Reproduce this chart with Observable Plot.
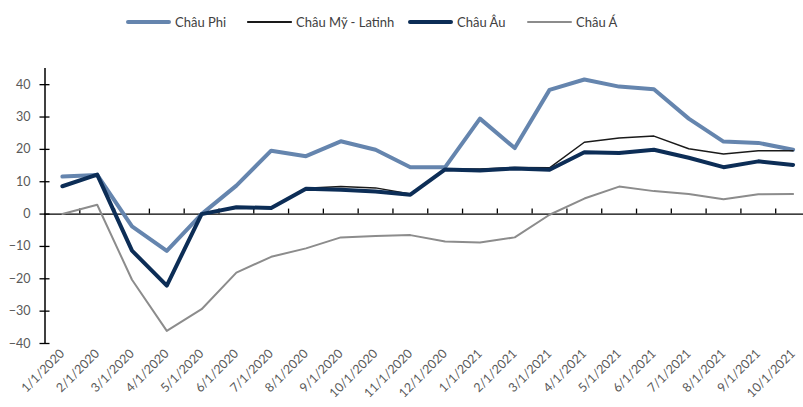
<!DOCTYPE html>
<html>
<head>
<meta charset="utf-8">
<script src="https://cdn.jsdelivr.net/npm/d3@7"></script>
<script src="https://cdn.jsdelivr.net/npm/@observablehq/plot@0.6"></script>
<style>
  body { margin: 0; background: #fff; font-family: Lato, "Noto Sans", sans-serif; }
  #legend { height: 40px; position: relative; font-size: 13px; color: #404040; }
  .item { position: absolute; top: 13px; display: flex; align-items: center; height: 18px; white-space: nowrap; }
  .sw { display: inline-block; width: 45px; margin-right: 4px; }
</style>
</head>
<body>
<div id="legend"></div>
<div id="chart"></div>
<script>
const months = ["1/1/2020","2/1/2020","3/1/2020","4/1/2020","5/1/2020","6/1/2020","7/1/2020","8/1/2020","9/1/2020","10/1/2020","11/1/2020","12/1/2020",
                "1/1/2021","2/1/2021","3/1/2021","4/1/2021","5/1/2021","6/1/2021","7/1/2021","8/1/2021","9/1/2021","10/1/2021"];
const seriesNames = ["Châu Phi", "Châu Mỹ - Latinh", "Châu Âu", "Châu Á"];
const chauPhi   = [11.6, 12.1, -3.8, -11.4, 0.0, 8.8, 19.6, 17.9, 22.5, 19.9, 14.5, 14.5, 29.5, 20.4, 38.4, 41.6, 39.4, 38.6, 29.5, 22.4, 22.0, 19.9];
const chauMyLatinh = [8.7, 12.2, -11.2, -22.0, 0.0, 1.9, 1.9, 8.0, 8.5, 8.1, 6.2, 13.9, 13.9, 14.4, 14.3, 22.2, 23.5, 24.1, 20.2, 18.6, 19.6, 19.6];
const chauAu    = [8.6, 12.2, -11.3, -22.1, 0.0, 2.1, 1.9, 7.8, 7.5, 7.0, 6.0, 13.8, 13.5, 14.1, 13.7, 19.1, 18.9, 19.9, 17.4, 14.5, 16.3, 15.2];
const chauA     = [0.0, 2.9, -20.3, -36.1, -29.4, -18.1, -13.2, -10.6, -7.2, -6.8, -6.5, -8.5, -8.8, -7.2, -0.2, 4.8, 8.5, 7.1, 6.2, 4.6, 6.1, 6.2];
const yTicks = [-40, -30, -20, -10, 0, 10, 20, 30, 40];

const values = [chauPhi, chauMyLatinh, chauAu, chauA];
const colors = ["#6585ae", "#1a1a1a", "#0c2d56", "#8c8c8c"];
const widths = [4, 1.5, 4, 2];
const legendLeft = [126, 247, 408, 527];

// legend
const legend = document.getElementById("legend");
seriesNames.forEach((name, s) => {
  const it = document.createElement("div");
  it.className = "item";
  it.style.left = legendLeft[s] + "px";
  const sw = document.createElement("span");
  sw.className = "sw";
  sw.style.height = widths[s] + "px";
  sw.style.background = colors[s];
  sw.style.borderRadius = (widths[s] / 2) + "px";
  it.appendChild(sw);
  const t = document.createElement("span");
  t.textContent = name;
  it.appendChild(t);
  legend.appendChild(it);
});

const idx = d3.range(months.length);
const boundaries = idx.slice(0, -1).map(i => i + 0.5);
const rows = s => values[s].map((v, i) => ({i, v}));

const lineMarks = seriesNames.map((name, s) =>
  Plot.line(rows(s), {x: "i", y: "v", stroke: colors[s], strokeWidth: widths[s], strokeLinejoin: "round", strokeLinecap: "round"})
);

const chart = Plot.plot({
  width: 803,
  height: 367,
  marginLeft: 44,
  marginRight: 0,
  marginTop: 28,
  marginBottom: 64,
  style: {fontFamily: "Lato, 'Noto Sans', sans-serif", fontSize: "12.5px", color: "#595959", background: "#fff"},
  x: {domain: [-0.5, months.length - 0.5], range: [44.5, 810], label: null},
  y: {domain: [-40, 45], label: null},
  marks: [
    Plot.ruleY([0], {stroke: "#000", strokeWidth: 1.3}),
    Plot.ruleX(boundaries, {x: d => d, y1: 0, y2: 0, insetBottom: 5, stroke: "#000", strokeWidth: 1.3}),
    Plot.ruleX([-0.5], {stroke: "#000", strokeWidth: 1.5}),
    Plot.ruleY(yTicks, {y: d => d, x1: -0.5, x2: -0.5, insetLeft: -5, insetRight: -5, stroke: "#000", strokeWidth: 1.3}),
    Plot.axisY({ticks: yTicks, tickSize: 0, tickPadding: 14, label: null, fill: "#595959"}),
    Plot.axisX({ticks: idx, tickFormat: i => months[i], tickRotate: -45, tickSize: 0, tickPadding: 8, label: null, fill: "#595959"}),
    ...lineMarks
  ]
});
document.getElementById("chart").appendChild(chart);
</script>
</body>
</html>
